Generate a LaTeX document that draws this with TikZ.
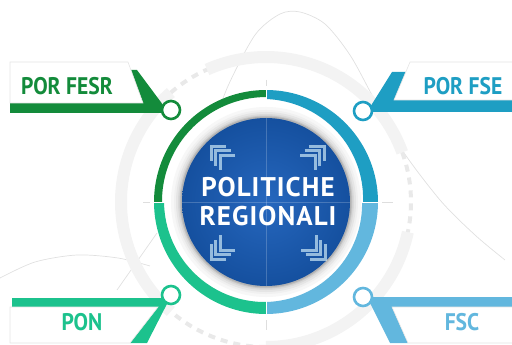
\documentclass[tikz,border=0pt]{standalone}
\usepackage{fontspec}
\usepackage{graphicx}
\setmainfont{PT Sans}
\definecolor{fesrgreen}{HTML}{138B3B}
\definecolor{fseteal}{HTML}{1E9EC3}
\definecolor{pongreen}{HTML}{1CC28D}
\definecolor{fscblue}{HTML}{62B7DE}
\definecolor{discglow}{HTML}{2667BE}
\definecolor{discdark}{HTML}{15509F}
\definecolor{ringgray}{HTML}{F3F3F3}
\tikzset{
  whitebox/.style={fill=white,draw=black!10,line width=0.6pt},
  bannertext/.style={font=\bfseries\fontsize{24}{24}\selectfont},
  hookring/.style={line width=2.6pt,fill=white},
  chev/.style={white!85!cyan,opacity=0.65,line width=3pt},
  faint/.style={black!12,line width=0.7pt},
  grayband/.style={ringgray,line width=12pt},
  graydash/.style={ringgray!96!black,line width=4pt,dash pattern=on 7pt off 6pt}
}

\begin{document}
\begin{tikzpicture}[x=1pt,y=-1pt]
  \useasboundingbox (0,0) rectangle (512,345);
  \coordinate (c) at (266,202);

  % faint lines in the back
  \draw[faint] plot[smooth] coordinates {(212,130) (228,86) (255,35) (280,14) (300,12) (325,24) (350,55) (373,97) (400,147) (440,200) (475,235) (505,260)};
  \draw[faint] plot[smooth] coordinates {(0,278) (35,262) (77,255) (118,258) (150,266)};
  \draw[faint] (157,233) -- (117,290);

  % big gray ring
  \draw[grayband] (c) ++(246:145) arc[start angle=246,end angle=340,radius=145];
  \draw[grayband] (c) ++(12:145) arc[start angle=12,end angle=90,radius=145];
  \draw[grayband] (c) ++(131:145) arc[start angle=131,end angle=229,radius=145];
  \draw[graydash] (c) ++(340:145) arc[start angle=340,end angle=372,radius=145];
  \draw[graydash] (c) ++(90:145) arc[start angle=90,end angle=131,radius=145];
  \draw[graydash] (c) ++(229:145) arc[start angle=229,end angle=246,radius=145];

  % cross
  \draw[black!13,line width=0.8pt] (266,80) -- (266,330);
  \draw[black!13,line width=0.8pt] (143,202) -- (393,202);

  % coloured ring
  \fill[white] (c) circle[radius=108];
  \fill[fesrgreen] plot[domain=180:270,samples=40] ({266+112*cos(\x)},{202+112*sin(\x)})
    -- plot[domain=270:180,samples=40] ({266+(112-7-1*(270-\x)/90)*cos(\x)},{202+(112-7-1*(270-\x)/90)*sin(\x)}) -- cycle;
  \fill[fseteal] plot[domain=270:360,samples=40] ({266+112*cos(\x)},{202+112*sin(\x)})
    -- plot[domain=360:270,samples=40] ({266+(112-9-6*(\x-270)/90)*cos(\x)},{202+(112-9-6*(\x-270)/90)*sin(\x)}) -- cycle;
  \fill[fscblue] plot[domain=0:90,samples=40] ({266+112*cos(\x)},{202+112*sin(\x)})
    -- plot[domain=90:0,samples=40] ({266+(112-12-4*(90-\x)/90)*cos(\x)},{202+(112-12-4*(90-\x)/90)*sin(\x)}) -- cycle;
  \fill[pongreen] plot[domain=90:180,samples=40] ({266+112*cos(\x)},{202+112*sin(\x)})
    -- plot[domain=180:90,samples=40] ({266+(112-10-2*(180-\x)/90)*cos(\x)},{202+(112-10-2*(180-\x)/90)*sin(\x)}) -- cycle;
  \draw[white,line width=1pt] (266,86) -- (266,320);
  \draw[white,line width=1pt] (150,202) -- (382,202);

  % shadow round the disc
  \foreach \r/\g in {95/3,92/6,90/10,88/15,86.5/22,85.5/30}
    \fill[black!\g] (c) circle[radius=\r];
  \shade[inner color=discglow,outer color=discdark] (c) circle[radius=84];
  \draw[white,opacity=0.2,line width=0.8pt] (266,118) -- (266,286);
  \draw[white,opacity=0.2,line width=0.8pt] (182,202) -- (350,202);

  % chevrons
  \foreach \cx/\cy/\sx/\sy in {211/146/1/1,324/146/-1/1,211/259/1/-1,325/259/-1/-1}{
    \begin{scope}[shift={(\cx,\cy)},xscale=\sx,yscale=\sy]
      \foreach \k in {0,1,2}
        \draw[chev] (4.5*\k+15,4.5*\k) -- (4.5*\k,4.5*\k) -- (4.5*\k,4.5*\k+15);
    \end{scope}
  }
  \node[text=white,align=center,font=\bfseries\fontsize{27}{29}\selectfont\addfontfeature{LetterSpace=4}] (title) at (268,202) {POLITICHE\\REGIONALI};

  % POR FESR
  \fill[fesrgreen] (10,103) -- (128,103) -- (130,70) -- (137,70) -- (169,113) -- (10,113) -- cycle;
  \draw[whitebox] (10,62) -- (128,62) -- (143,103) -- (10,103) -- cycle;
  \draw[hookring,draw=fesrgreen] (171,110) circle[radius=9];
  \node[bannertext,text=fesrgreen] (fesr) at (67,86) {\scalebox{0.9}[1]{POR FESR}};

  % POR FSE
  \fill[fseteal] (392,72) -- (408,72) -- (408,100) -- (512,100) -- (512,112) -- (367,112) -- cycle;
  \draw[whitebox] (410,62) -- (513,62) -- (513,100) -- (394,100) -- cycle;
  \draw[hookring,draw=fseteal] (363,111) circle[radius=9];
  \node[bannertext,text=fseteal] (fse) at (463,86) {\scalebox{0.9}[1]{POR FSE}};

  % PON
  \fill[pongreen] (12,298) -- (170,298) -- (147,343) -- (130,343) -- (158,307) -- (12,307) -- cycle;
  \draw[whitebox] (10,307) -- (158,307) -- (130,343) -- (10,343) -- cycle;
  \draw[hookring,draw=pongreen] (171,295) circle[radius=9];
  \node[bannertext,text=pongreen] (pon) at (82,322) {\scalebox{0.9}[1]{PON}};

  % FSC
  \fill[fscblue] (367,297) -- (513,297) -- (513,307) -- (392,307) -- (408,343) -- (390,343) -- cycle;
  \draw[whitebox] (392,307) -- (513,307) -- (513,343) -- (408,343) -- cycle;
  \draw[hookring,draw=fscblue] (363,297) circle[radius=9];
  \node[bannertext,text=fscblue] (fsc) at (462,322) {\scalebox{0.9}[1]{FSC}};
\end{tikzpicture}
\end{document}
